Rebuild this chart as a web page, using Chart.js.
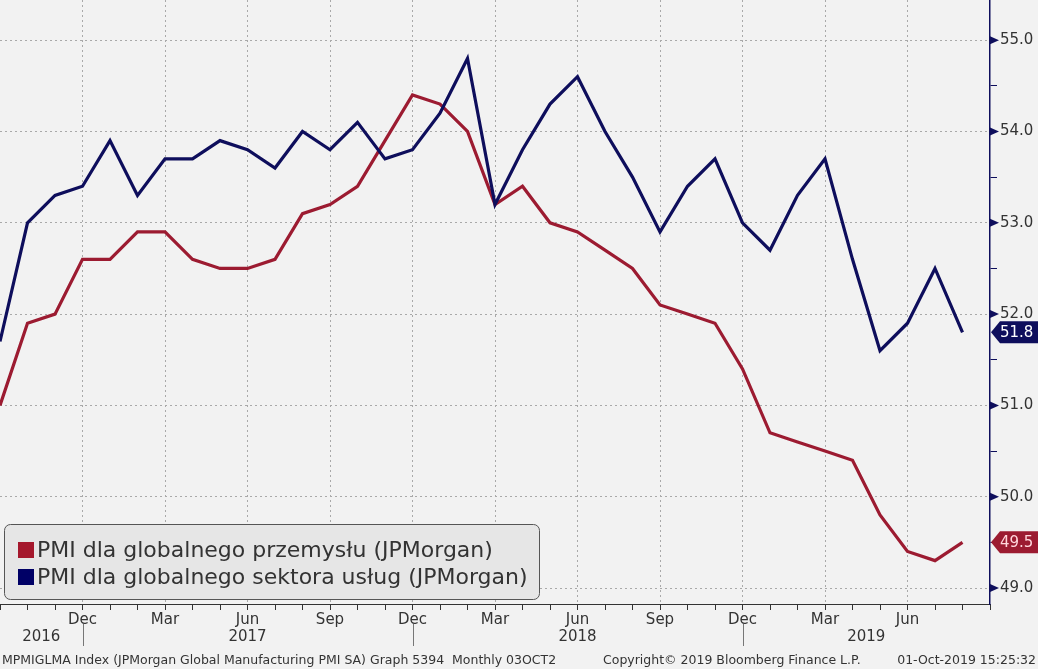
<!DOCTYPE html>
<html>
<head>
<meta charset="utf-8">
<script src="https://cdn.jsdelivr.net/npm/chart.js@4.4.1/dist/chart.umd.min.js"></script>
<style>
  html, body { margin: 0; padding: 0; background: #f2f2f2; }
  #wrap { width: 1038px; height: 669px; }
</style>
</head>
<body>
<div id="wrap"><canvas id="myChart" width="1038" height="669"></canvas></div>
<script>
// monthly axis, Sep 2016 .. Sep 2019
const months = [
  'Sep 2016', 'Oct 2016', 'Nov 2016', 'Dec 2016',
  'Jan 2017', 'Feb 2017', 'Mar 2017', 'Apr 2017', 'May 2017', 'Jun 2017',
  'Jul 2017', 'Aug 2017', 'Sep 2017', 'Oct 2017', 'Nov 2017', 'Dec 2017',
  'Jan 2018', 'Feb 2018', 'Mar 2018', 'Apr 2018', 'May 2018', 'Jun 2018',
  'Jul 2018', 'Aug 2018', 'Sep 2018', 'Oct 2018', 'Nov 2018', 'Dec 2018',
  'Jan 2019', 'Feb 2019', 'Mar 2019', 'Apr 2019', 'May 2019', 'Jun 2019',
  'Jul 2019', 'Aug 2019', 'Sep 2019'
];
const manufacturing = [
  51.0, 51.9, 52.0, 52.6,
  52.6, 52.9, 52.9, 52.6, 52.5, 52.5, 52.6, 53.1, 53.2, 53.4, 53.9, 54.4,
  54.3, 54.0, 53.2, 53.4, 53.0, 52.9, 52.7, 52.5, 52.1, 52.0, 51.9, 51.4,
  50.7, 50.6, 50.5, 50.4, 49.8, 49.4, 49.3, 49.5, null
];
const services = [
  51.7, 53.0, 53.3, 53.4,
  53.9, 53.3, 53.7, 53.7, 53.9, 53.8, 53.6, 54.0, 53.8, 54.1, 53.7, 53.8,
  54.2, 54.8, 53.2, 53.8, 54.3, 54.6, 54.0, 53.5, 52.9, 53.4, 53.7, 53.0,
  52.7, 53.3, 53.7, 52.6, 51.6, 51.9, 52.5, 51.8, null
];
const seriesNames = [
  'PMI dla globalnego przemysłu (JPMorgan)',
  'PMI dla globalnego sektora usług (JPMorgan)'
];
const yTicks = [49, 50, 51, 52, 53, 54, 55];
const footer = [
  'MPMIGLMA Index (JPMorgan Global Manufacturing PMI SA) Graph 5394  Monthly 03OCT2',
  'Copyright© 2019 Bloomberg Finance L.P.',
  '01-Oct-2019 15:25:32'
];

const RED = '#9c1b31';
const NAVY = '#0e0e5c';
const FONT = '"DejaVu Sans", Verdana, sans-serif';
const quarterly = ['Dec', 'Mar', 'Jun', 'Sep'];

function isQuarter(i) {
  return i > 0 && i < months.length - 1 && quarterly.includes(months[i].slice(0, 3));
}

const decorations = {
  id: 'decorations',
  afterDraw(chart) {
    const ctx = chart.ctx;
    const x = chart.scales.x, y = chart.scales.y;
    const area = chart.chartArea;
    ctx.save();

    // triangles on the major y ticks
    ctx.fillStyle = NAVY;
    yTicks.forEach(v => {
      const py = y.getPixelForValue(v);
      ctx.beginPath();
      ctx.moveTo(area.right, py - 4);
      ctx.lineTo(area.right + 9, py);
      ctx.lineTo(area.right, py + 4);
      ctx.closePath();
      ctx.fill();
    });

    // year separators and year labels
    const decs = [];
    months.forEach((m, i) => { if (m.startsWith('Dec')) decs.push(i); });
    ctx.strokeStyle = '#777';
    ctx.lineWidth = 1;
    decs.forEach(i => {
      const px = Math.round(x.getPixelForValue(i)) + 0.5;
      ctx.beginPath();
      ctx.moveTo(px, area.bottom + 20);
      ctx.lineTo(px, area.bottom + 42);
      ctx.stroke();
    });
    const bounds = [0].concat(decs, [months.length - 1]);
    ctx.fillStyle = '#333';
    ctx.font = '15px ' + FONT;
    ctx.textAlign = 'center';
    ctx.textBaseline = 'middle';
    for (let k = 0; k < bounds.length - 1; k++) {
      const a = x.getPixelForValue(bounds[k]);
      const b = x.getPixelForValue(bounds[k + 1]);
      const year = months[Math.min(bounds[k] + 1, months.length - 1)].slice(4);
      ctx.fillText(year, (a + b) / 2, area.bottom + 33);
    }

    // last-value tags
    chart.data.datasets.forEach(ds => {
      let last = null;
      ds.data.forEach(v => { if (v !== null) last = v; });
      const py = y.getPixelForValue(last);
      ctx.fillStyle = ds.borderColor;
      ctx.beginPath();
      ctx.moveTo(area.right + 1, py);
      ctx.lineTo(area.right + 10, py - 11);
      ctx.lineTo(chart.width, py - 11);
      ctx.lineTo(chart.width, py + 11);
      ctx.lineTo(area.right + 10, py + 11);
      ctx.closePath();
      ctx.fill();
      ctx.fillStyle = ds.tagText;
      ctx.font = '15px ' + FONT;
      ctx.textAlign = 'left';
      ctx.fillText(last.toFixed(1), area.right + 10, py + 1);
    });

    // legend box
    const lx = 4.5, ly = 524.5, lw = 535, lh = 75, r = 6;
    ctx.beginPath();
    ctx.moveTo(lx + r, ly);
    ctx.arcTo(lx + lw, ly, lx + lw, ly + lh, r);
    ctx.arcTo(lx + lw, ly + lh, lx, ly + lh, r);
    ctx.arcTo(lx, ly + lh, lx, ly, r);
    ctx.arcTo(lx, ly, lx + lw, ly, r);
    ctx.closePath();
    ctx.fillStyle = '#e6e6e6';
    ctx.fill();
    ctx.strokeStyle = '#555';
    ctx.stroke();
    ctx.font = '22px ' + FONT;
    ctx.textAlign = 'left';
    chart.data.datasets.forEach((ds, i) => {
      const cy = 550 + i * 27;
      ctx.fillStyle = ds.legendColor;
      ctx.fillRect(18, cy - 8, 16, 16);
      ctx.fillStyle = '#333';
      ctx.fillText(ds.label, 37, cy + 1);
    });

    // footer
    ctx.font = '12.5px ' + FONT;
    ctx.fillStyle = '#333';
    ctx.textBaseline = 'alphabetic';
    ctx.textAlign = 'left';
    ctx.fillText(footer[0], 2, 664);
    ctx.fillText(footer[1], 603, 664);
    ctx.textAlign = 'right';
    ctx.fillText(footer[2], chart.width - 2, 664);
    ctx.restore();
  }
};

const ctx = document.getElementById('myChart').getContext('2d');
const myChart = new Chart(ctx, {
  type: 'line',
  data: {
    labels: months,
    datasets: [
      {
        label: seriesNames[0],
        data: manufacturing,
        borderColor: RED,
        legendColor: '#a5182d',
        tagText: '#ffd6dc',
        borderWidth: 3.2,
        pointRadius: 0,
        tension: 0,
        borderJoinStyle: 'miter',
        order: 1
      },
      {
        label: seriesNames[1],
        data: services,
        borderColor: NAVY,
        legendColor: '#000066',
        tagText: '#ffffff',
        borderWidth: 3.2,
        pointRadius: 0,
        tension: 0,
        borderJoinStyle: 'miter',
        order: 0
      }
    ]
  },
  options: {
    responsive: false,
    animation: false,
    layout: { padding: 0 },
    plugins: {
      legend: { display: false },
      tooltip: { enabled: false }
    },
    scales: {
      x: {
        type: 'category',
        offset: false,
        grid: {
          color: c => isQuarter(c.index) ? '#a9a9a9' : 'transparent',
          tickColor: '#333',
          tickLength: 6,
          lineWidth: 1
        },
        border: { color: '#333', width: 1, dash: [2, 3] },
        ticks: {
          autoSkip: false,
          maxRotation: 0,
          padding: 1,
          color: '#333',
          font: { family: FONT, size: 15 },
          callback: (v, i) => isQuarter(i) ? months[i].slice(0, 3) : ''
        },
        afterFit: s => { s.height = 65; s.paddingLeft = 0; s.paddingRight = 0; }
      },
      y: {
        position: 'right',
        min: 48.825,
        max: 55.44,
        grid: {
          color: c => Number.isInteger(c.tick.value) ? '#a9a9a9' : 'transparent',
          tickColor: c => Number.isInteger(c.tick.value) ? 'transparent' : NAVY,
          tickLength: 7,
          lineWidth: 1
        },
        border: { color: NAVY, width: 1.5, dash: [2, 3] },
        ticks: {
          stepSize: 0.5,
          includeBounds: false,
          padding: 3,
          color: '#333',
          font: { family: FONT, size: 15 },
          callback: v => Number.isInteger(v) ? v.toFixed(1) : ''
        },
        afterFit: s => { s.width = 48; s.paddingTop = 0; s.paddingBottom = 0; }
      }
    }
  },
  plugins: [decorations]
});
</script>
</body>
</html>
